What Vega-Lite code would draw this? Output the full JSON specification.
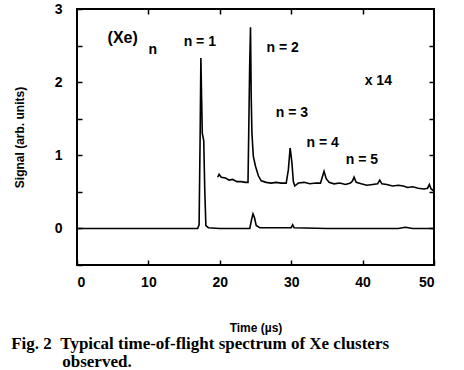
{
  "$schema": "https://vega.github.io/schema/vega-lite/v6.json",
  "width": 357,
  "height": 256,
  "autosize": "none",
  "padding": {"left": 77, "top": 9, "right": 30, "bottom": 105},
  "background": "white",
  "config": {
    "view": {"stroke": "black", "strokeWidth": 2},
    "axis": {
      "domain": false,
      "grid": false,
      "tickColor": "black",
      "tickSize": -5,
      "tickWidth": 1.5,
      "labelFont": "Liberation Sans",
      "labelFontWeight": "bold",
      "labelFontSize": 14,
      "labelColor": "black",
      "titleFont": "Liberation Sans",
      "titleFontWeight": "bold",
      "titleFontSize": 12,
      "titleColor": "black"
    }
  },
  "title": {
    "text": ["Fig. 2\u00a0\u00a0Typical time-of-flight spectrum of Xe clusters", "\u200b\u00a0\u00a0\u00a0\u00a0\u00a0\u00a0\u00a0\u00a0\u00a0\u00a0\u00a0\u00a0observed."],
    "orient": "bottom",
    "anchor": "start",
    "frame": "bounds",
    "dx": -2,
    "offset": 3,
    "font": "Liberation Serif",
    "fontWeight": "bold",
    "fontSize": 17,
    "lineHeight": 18,
    "color": "black"
  },
  "resolve": {"axis": {"x": "independent", "y": "independent"}},
  "layer": [
    {
      "data": {"values": [
        {"t": 0, "s": 0.0, "series": "a"},
        {"t": 5, "s": 0.0, "series": "a"},
        {"t": 10, "s": 0.0, "series": "a"},
        {"t": 15, "s": 0.0, "series": "a"},
        {"t": 16.9, "s": 0.0, "series": "a"},
        {"t": 17.1, "s": 0.05, "series": "a"},
        {"t": 17.25, "s": 1.3, "series": "a"},
        {"t": 17.35, "s": 2.33, "series": "a"},
        {"t": 17.45, "s": 1.8, "series": "a"},
        {"t": 17.55, "s": 1.3, "series": "a"},
        {"t": 17.75, "s": 1.2, "series": "a"},
        {"t": 17.9, "s": 0.5, "series": "a"},
        {"t": 18.05, "s": 0.04, "series": "a"},
        {"t": 18.4, "s": 0.01, "series": "a"},
        {"t": 20, "s": 0.0, "series": "a"},
        {"t": 24.2, "s": 0.0, "series": "a"},
        {"t": 24.45, "s": 0.12, "series": "a"},
        {"t": 24.65, "s": 0.2, "series": "a"},
        {"t": 24.85, "s": 0.15, "series": "a"},
        {"t": 25.1, "s": 0.04, "series": "a"},
        {"t": 25.6, "s": 0.01, "series": "a"},
        {"t": 30.0, "s": 0.01, "series": "a"},
        {"t": 30.2, "s": 0.05, "series": "a"},
        {"t": 30.4, "s": 0.01, "series": "a"},
        {"t": 35, "s": 0.0, "series": "a"},
        {"t": 40, "s": 0.0, "series": "a"},
        {"t": 45, "s": 0.0, "series": "a"},
        {"t": 46, "s": 0.015, "series": "a"},
        {"t": 47, "s": 0.0, "series": "a"},
        {"t": 50, "s": 0.0, "series": "a"},
        {"t": 19.7, "s": 0.7, "series": "b"},
        {"t": 19.9, "s": 0.74, "series": "b"},
        {"t": 20.2, "s": 0.7, "series": "b"},
        {"t": 20.8, "s": 0.69, "series": "b"},
        {"t": 21.3, "s": 0.66, "series": "b"},
        {"t": 21.8, "s": 0.67, "series": "b"},
        {"t": 22.4, "s": 0.64, "series": "b"},
        {"t": 23.0, "s": 0.64, "series": "b"},
        {"t": 23.6, "s": 0.63, "series": "b"},
        {"t": 23.95, "s": 0.63, "series": "b"},
        {"t": 24.05, "s": 1.3, "series": "b"},
        {"t": 24.18, "s": 2.2, "series": "b"},
        {"t": 24.3, "s": 2.75, "series": "b"},
        {"t": 24.4, "s": 1.8, "series": "b"},
        {"t": 24.5, "s": 1.3, "series": "b"},
        {"t": 24.7, "s": 0.98, "series": "b"},
        {"t": 25.0, "s": 0.85, "series": "b"},
        {"t": 25.4, "s": 0.72, "series": "b"},
        {"t": 25.8, "s": 0.65, "series": "b"},
        {"t": 26.5, "s": 0.63, "series": "b"},
        {"t": 27.2, "s": 0.62, "series": "b"},
        {"t": 27.9, "s": 0.63, "series": "b"},
        {"t": 28.6, "s": 0.62, "series": "b"},
        {"t": 29.3, "s": 0.62, "series": "b"},
        {"t": 29.6, "s": 0.8, "series": "b"},
        {"t": 29.85, "s": 1.1, "series": "b"},
        {"t": 30.1, "s": 0.9, "series": "b"},
        {"t": 30.3, "s": 0.64, "series": "b"},
        {"t": 30.5, "s": 0.58, "series": "b"},
        {"t": 31.0, "s": 0.62, "series": "b"},
        {"t": 31.8, "s": 0.63, "series": "b"},
        {"t": 32.6, "s": 0.61, "series": "b"},
        {"t": 33.5, "s": 0.62, "series": "b"},
        {"t": 34.1, "s": 0.62, "series": "b"},
        {"t": 34.35, "s": 0.7, "series": "b"},
        {"t": 34.6, "s": 0.78, "series": "b"},
        {"t": 34.9, "s": 0.68, "series": "b"},
        {"t": 35.3, "s": 0.63, "series": "b"},
        {"t": 36.0, "s": 0.61, "series": "b"},
        {"t": 36.8, "s": 0.62, "series": "b"},
        {"t": 37.6, "s": 0.6, "series": "b"},
        {"t": 38.3, "s": 0.62, "series": "b"},
        {"t": 38.6, "s": 0.65, "series": "b"},
        {"t": 38.8, "s": 0.7, "series": "b"},
        {"t": 39.1, "s": 0.63, "series": "b"},
        {"t": 39.8, "s": 0.61, "series": "b"},
        {"t": 40.6, "s": 0.59, "series": "b"},
        {"t": 41.4, "s": 0.6, "series": "b"},
        {"t": 42.1, "s": 0.61, "series": "b"},
        {"t": 42.4, "s": 0.66, "series": "b"},
        {"t": 42.7, "s": 0.61, "series": "b"},
        {"t": 43.4, "s": 0.6, "series": "b"},
        {"t": 44.2, "s": 0.58, "series": "b"},
        {"t": 45.0, "s": 0.59, "series": "b"},
        {"t": 45.7, "s": 0.58, "series": "b"},
        {"t": 46.3, "s": 0.56, "series": "b"},
        {"t": 47.0, "s": 0.57, "series": "b"},
        {"t": 47.8, "s": 0.55, "series": "b"},
        {"t": 48.6, "s": 0.54, "series": "b"},
        {"t": 49.1, "s": 0.55, "series": "b"},
        {"t": 49.35, "s": 0.6, "series": "b"},
        {"t": 49.6, "s": 0.54, "series": "b"},
        {"t": 50.0, "s": 0.51, "series": "b"}
      ]},
      "mark": {"type": "line", "color": "black", "strokeWidth": 1.6, "clip": true},
      "encoding": {
        "x": {
          "field": "t", "type": "quantitative",
          "scale": {"domain": [0, 50], "nice": false, "zero": false},
          "axis": {"orient": "bottom", "values": [0, 10, 20, 30, 40, 50], "format": "d", "title": "Time (µs)", "labelPadding": 15, "titlePadding": 33}
        },
        "y": {
          "field": "s", "type": "quantitative",
          "scale": {"domain": [-0.5, 3], "nice": false, "zero": false},
          "axis": {"orient": "left", "values": [-0.5, 0, 0.5, 1, 1.5, 2, 2.5, 3], "labelExpr": "datum.value % 1 == 0 ? format(datum.value, 'd') : ''", "title": "Signal (arb. units)", "labelPadding": 20, "titlePadding": 28}
        },
        "detail": {"field": "series", "type": "nominal"}
      }
    },
    {
      "data": {"values": [
        {"t": 6.4, "s": 2.6, "label": "(Xe)", "size": 16},
        {"t": 10.6, "s": 2.44, "label": "n", "size": 14},
        {"t": 17.2, "s": 2.55, "label": "n = 1", "size": 14},
        {"t": 28.8, "s": 2.47, "label": "n = 2", "size": 14},
        {"t": 42.2, "s": 2.02, "label": "x 14", "size": 14},
        {"t": 30.1, "s": 1.58, "label": "n = 3", "size": 14},
        {"t": 34.4, "s": 1.17, "label": "n = 4", "size": 14},
        {"t": 39.9, "s": 0.93, "label": "n = 5", "size": 14}
      ]},
      "mark": {"type": "text", "font": "Liberation Sans", "fontWeight": "bold", "color": "black", "align": "center", "baseline": "middle"},
      "encoding": {
        "x": {
          "field": "t", "type": "quantitative",
          "axis": {"orient": "top", "values": [10, 20, 30, 40], "labels": false, "title": null}
        },
        "y": {
          "field": "s", "type": "quantitative",
          "axis": {"orient": "right", "values": [0, 0.5, 1, 1.5, 2, 2.5], "labels": false, "title": null}
        },
        "text": {"field": "label", "type": "nominal"},
        "size": {"field": "size", "type": "quantitative", "scale": null, "legend": null}
      }
    }
  ]
}
